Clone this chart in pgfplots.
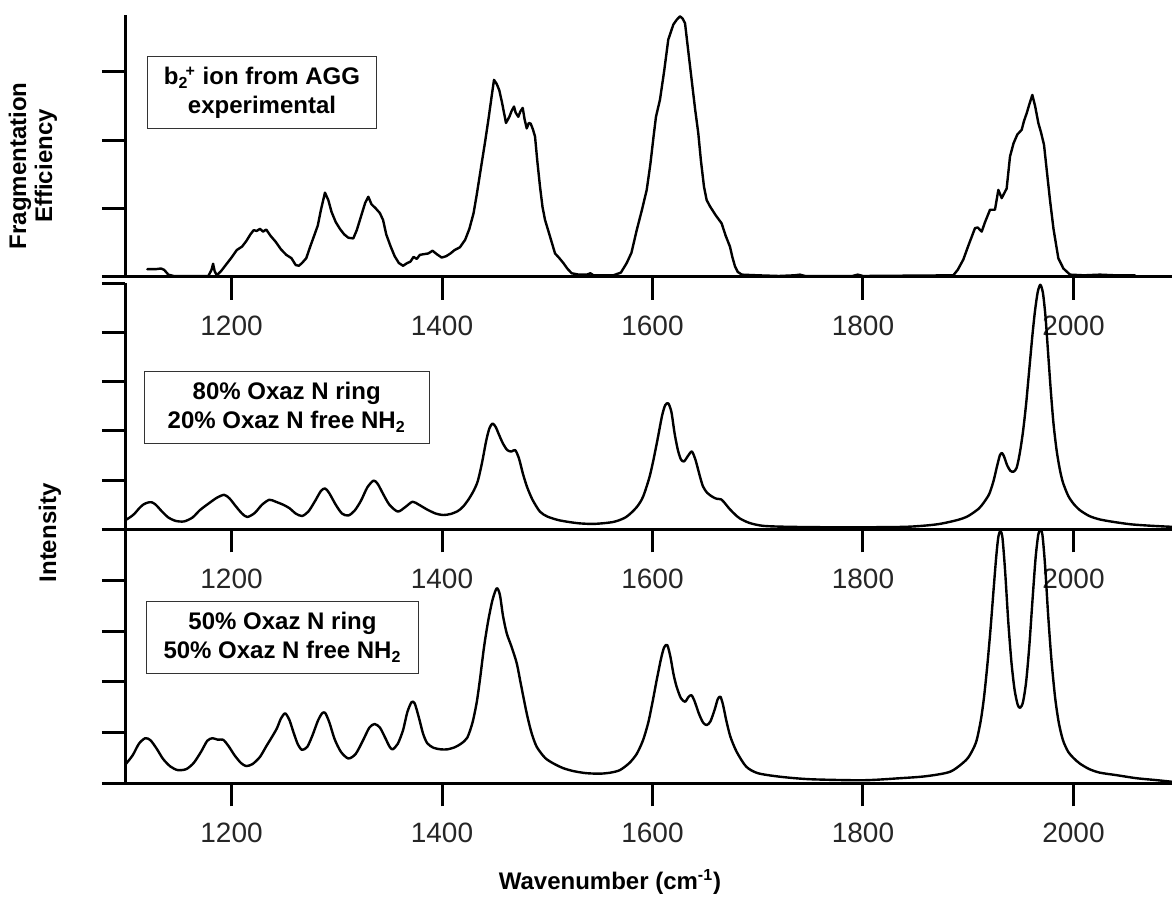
\documentclass[border=0pt]{standalone}
\usepackage{fontspec}
\setmainfont{Liberation Sans}
\usepackage{pgfplots}
\pgfplotsset{compat=1.18}

\pgfplotsset{
  panel/.style={
    scale only axis, width=523.5pt,
    xmin=1098.8, xmax=2093.6, ymin=0,
    axis x line*=bottom, axis y line*=left,
    axis line style={line width=1.5pt,-},
    tick align=outside,
    major tick length=11.5pt,
    every tick/.style={black, line width=1.5pt},
    xtick={1200,1400,1600,1800,2000},
    yticklabels={},
    /pgf/number format/1000 sep={},
    /pgf/number format/assume math mode=true,
    xticklabel style={font=\fontsize{14}{16}\selectfont, text=black!85, yshift=-4.6pt},
    clip=true,
  },
  curve/.style={black, line width=1.2pt, line join=round, line cap=round},
}

\begin{document}
\begin{tikzpicture}
\useasboundingbox (0,0) rectangle (586pt,448.5pt);

% ---------- top panel: experimental ----------
\begin{axis}[panel, at={(62.5pt,310.15pt)}, anchor=south west,
  height=130.85pt, ymax=3.83, ytick={0,1,2,3}]
\addplot[curve] coordinates {
(1120,0.11)(1128,0.11)(1133,0.12)(1136,0.10)(1140,0.03)(1145,0.01)(1178,0.01)
(1181,0.10)(1182.5,0.19)(1184,0.08)(1186,0.02)(1190,0.08)(1195,0.18)(1200,0.28)
(1205,0.39)(1210,0.44)(1214,0.52)(1218,0.62)(1221,0.68)(1224,0.67)(1227,0.70)
(1230,0.66)(1233,0.69)(1237,0.60)(1242,0.51)(1247,0.40)(1252,0.32)(1257,0.27)
(1261,0.17)(1264,0.16)(1267,0.20)(1271,0.27)(1275,0.45)(1279,0.62)(1282,0.75)
(1285,0.98)(1288.8,1.23)(1292,1.12)(1295,0.95)(1299,0.80)(1303,0.70)(1307,0.62)
(1311,0.57)(1315.7,0.56)(1319,0.68)(1323,0.88)(1327,1.08)(1330,1.17)(1333,1.06)
(1337,1.00)(1341,0.93)(1344,0.83)(1347,0.62)(1351,0.45)(1355,0.30)(1359,0.20)
(1363,0.16)(1367,0.20)(1370,0.22)(1373,0.29)(1376,0.26)(1379,0.32)(1383,0.33)
(1387,0.34)(1391,0.38)(1395,0.33)(1399.7,0.28)(1404,0.30)(1408,0.34)(1412,0.39)
(1417,0.43)(1422,0.54)(1426,0.70)(1430,0.93)(1433,1.20)(1437.7,1.66)(1441,1.98)
(1444,2.29)(1447,2.62)(1449.4,2.88)(1452,2.82)(1454.4,2.73)(1457,2.55)(1460.8,2.25)
(1464,2.34)(1466,2.42)(1468.4,2.49)(1470,2.40)(1472.5,2.34)(1474.5,2.42)(1476.7,2.47)
(1478.5,2.30)(1480.5,2.17)(1482.5,2.25)(1484.3,2.24)(1486.5,2.15)(1488.4,2.05)
(1490.5,1.70)(1493.1,1.32)(1495.5,1.02)(1497.9,0.83)(1502,0.62)(1507.4,0.34)
(1511,0.28)(1515.3,0.20)(1519,0.12)(1523.2,0.05)(1530,0.03)(1537.5,0.03)(1541,0.05)
(1544,0.02)(1550,0.02)(1562.8,0.02)(1570,0.06)(1575.5,0.20)(1580,0.35)(1585,0.68)
(1590,0.98)(1594.5,1.27)(1598,1.65)(1601,2.05)(1603.3,2.34)(1607.1,2.59)(1611,3.00)
(1615,3.47)(1619.8,3.69)(1623,3.76)(1626.1,3.81)(1628.5,3.78)(1630.9,3.71)(1634,3.30)
(1637.2,2.88)(1640.5,2.45)(1643.5,2.10)(1646,1.70)(1648.9,1.32)(1651.5,1.12)
(1654.6,1.03)(1660,0.90)(1665.7,0.78)(1669.5,0.60)(1673.6,0.44)(1676,0.28)
(1678.4,0.15)(1681,0.07)(1684.8,0.03)(1700,0.02)(1720,0.01)(1735,0.02)(1740,0.03)
(1745,0.01)(1790,0.01)(1795,0.03)(1800,0.01)(1885.8,0.02)(1890,0.10)(1895.3,0.25)
(1900,0.45)(1906.4,0.71)(1909,0.72)(1912.8,0.66)(1916,0.80)(1920.7,0.98)(1923,0.98)
(1925.4,0.98)(1928.6,1.27)(1931.8,1.15)(1936.5,1.29)(1939.7,1.76)(1943,1.95)
(1946.6,2.08)(1950.8,2.15)(1953,2.28)(1955.5,2.39)(1958,2.52)(1960.9,2.66)
(1963.5,2.50)(1966.6,2.25)(1969,2.12)(1972,1.93)(1975,1.50)(1977.7,1.12)(1981,0.70)
(1985.6,0.27)(1990.4,0.12)(1996.7,0.03)(2010,0.02)(2025,0.03)(2040,0.02)(2058.5,0.02)
};
\end{axis}

% ---------- middle panel: 80/20 ----------
\begin{axis}[panel, at={(62.5pt,183.85pt)}, anchor=south west,
  height=123pt, ymax=5, ytick={0,1,2,3,4,5}]
\addplot[curve, smooth, tension=0.45] coordinates {
(1098.8,0.18)(1104,0.25)(1108,0.32)(1112,0.42)(1116,0.50)(1120,0.54)(1124,0.55)
(1128,0.50)(1134,0.36)(1140,0.24)(1147,0.17)(1155,0.16)(1163,0.24)(1170,0.39)
(1178,0.52)(1186,0.64)(1193,0.70)(1198,0.63)(1204,0.47)(1210,0.32)(1215,0.25)
(1222,0.33)(1229,0.50)(1236,0.60)(1242,0.56)(1249,0.50)(1255,0.43)(1261,0.32)
(1267,0.27)(1273,0.36)(1279,0.56)(1285,0.78)(1289,0.83)(1293,0.73)(1299,0.50)
(1305,0.32)(1311,0.28)(1317,0.38)(1323,0.58)(1329,0.85)(1335,0.99)(1339,0.92)
(1344,0.72)(1350,0.50)(1358,0.36)(1365,0.45)(1372,0.56)(1378,0.50)(1386,0.40)
(1394,0.32)(1401,0.29)(1408,0.31)(1415,0.37)(1420,0.46)(1425,0.60)(1430,0.78)
(1434,0.98)(1438,1.35)(1442,1.80)(1445,2.05)(1448,2.15)(1451,2.08)(1454,1.93)
(1458,1.74)(1462,1.61)(1466,1.58)(1469.5,1.61)(1473,1.45)(1477,1.12)(1481,0.85)
(1486,0.60)(1493,0.36)(1500,0.26)(1510,0.19)(1520,0.15)(1531,0.12)(1545,0.11)
(1563,0.15)(1575,0.25)(1585,0.45)(1591,0.66)(1597,1.05)(1601,1.42)(1605,1.85)
(1609,2.30)(1612,2.52)(1615,2.56)(1618,2.38)(1621,1.95)(1624,1.62)(1627,1.42)
(1630,1.38)(1634,1.50)(1637.5,1.58)(1641,1.40)(1645,1.08)(1648,0.87)(1652,0.74)
(1657,0.66)(1661,0.62)(1665,0.61)(1668,0.55)(1673,0.42)(1678,0.31)(1683,0.22)
(1692,0.13)(1705,0.07)(1730,0.05)(1780,0.04)(1840,0.05)(1870,0.10)(1890,0.19)
(1900,0.27)(1910,0.42)(1915,0.55)(1920,0.72)(1924,0.98)(1927,1.25)(1930,1.50)
(1932,1.55)(1934,1.48)(1937,1.30)(1940,1.19)(1943,1.17)(1946,1.25)(1949,1.55)
(1952,1.98)(1955,2.55)(1958,3.25)(1961,3.95)(1963.5,4.45)(1966,4.82)(1968.5,4.97)
(1971,4.80)(1973.5,4.30)(1976,3.55)(1978.5,2.80)(1981,2.15)(1984,1.60)(1987,1.22)
(1990,0.95)(1995,0.68)(2000,0.52)(2006,0.39)(2015,0.27)(2025,0.20)(2038,0.15)
(2055,0.10)(2075,0.07)(2093.6,0.05)
};
\end{axis}

% ---------- bottom panel: 50/50 ----------
\begin{axis}[panel, at={(62.5pt,56.85pt)}, anchor=south west,
  height=126.65pt, ymax=5, ytick={0,1,2,3,4,5}]
\addplot[curve, smooth, tension=0.45] coordinates {
(1098.8,0.36)(1106,0.55)(1112,0.78)(1118,0.89)(1123,0.85)(1129,0.68)(1135,0.48)
(1142,0.33)(1149,0.26)(1157,0.28)(1164,0.40)(1171,0.62)(1177,0.84)(1182,0.89)
(1187,0.86)(1192,0.86)(1197,0.74)(1203,0.55)(1209,0.40)(1214,0.34)(1220,0.38)
(1227,0.52)(1233,0.73)(1238,0.90)(1243,1.08)(1247,1.28)(1251,1.38)(1255,1.25)
(1259,1.00)(1263,0.77)(1267,0.66)(1272,0.72)(1277,0.95)(1282,1.23)(1286,1.38)
(1289,1.39)(1293,1.20)(1298,0.87)(1304,0.62)(1311,0.49)(1318,0.58)(1325,0.85)
(1331,1.10)(1336,1.17)(1341,1.10)(1346,0.90)(1350,0.73)(1353,0.67)(1358,0.78)
(1363,1.05)(1367,1.40)(1371,1.60)(1374,1.58)(1378,1.30)(1382,0.98)(1386,0.79)
(1392,0.70)(1399,0.67)(1405,0.67)(1412,0.71)(1418,0.78)(1424,0.90)(1429,1.20)
(1433,1.60)(1436,2.04)(1440,2.70)(1444,3.22)(1448,3.62)(1452,3.85)(1455,3.72)
(1458,3.30)(1461.5,2.96)(1466,2.70)(1471,2.37)(1475,1.95)(1480.5,1.38)(1485,1.00)
(1490,0.72)(1498,0.50)(1506,0.39)(1515,0.30)(1525,0.24)(1537,0.20)(1550,0.19)
(1560,0.21)(1569,0.26)(1578,0.40)(1585,0.58)(1591,0.85)(1596,1.20)(1600,1.60)
(1604,2.04)(1608,2.45)(1611,2.68)(1614,2.73)(1617,2.50)(1620,2.15)(1623,1.90)
(1627,1.68)(1631,1.61)(1634,1.70)(1637,1.74)(1640,1.62)(1644,1.38)(1648,1.20)
(1651.5,1.15)(1655,1.22)(1659,1.45)(1662,1.66)(1664.5,1.71)(1667,1.55)(1670,1.25)
(1674,0.92)(1680,0.62)(1689,0.33)(1700,0.20)(1721,0.13)(1750,0.08)(1800,0.06)
(1835,0.10)(1860,0.14)(1883,0.23)(1898,0.46)(1904,0.65)(1908,0.85)(1912,1.25)
(1915,1.70)(1918,2.30)(1921,3.00)(1924,3.80)(1926.5,4.45)(1928.5,4.85)(1930.5,4.98)
(1932.5,4.85)(1935,4.20)(1938,3.20)(1941,2.40)(1944,1.85)(1947,1.55)(1949.3,1.49)
(1952,1.60)(1955,2.00)(1958,2.70)(1961,3.60)(1964,4.45)(1966.5,4.90)(1968.5,5.0)
(1970.5,4.90)(1973,4.30)(1976,3.30)(1979,2.45)(1982.5,1.70)(1986,1.20)(1990,0.85)
(1995,0.62)(2000,0.50)(2006,0.39)(2015,0.28)(2025,0.21)(2041,0.16)(2060,0.10)
(2080,0.06)(2093.6,0.03)
};
\end{axis}

% ---------- annotation boxes ----------
\tikzset{lbl/.style={draw=black!80, line width=0.5pt, fill=white, align=center,
  font=\bfseries\fontsize{12}{14.5}\selectfont, inner sep=0pt}}
\node[lbl, minimum width=114.7pt, minimum height=36pt] at (131pt,402.1pt)
  {b\textsubscript{2}\kern-0.12em\textsuperscript{+} ion from AGG\\experimental};
\node[lbl, minimum width=142.3pt, minimum height=35.8pt] at (143.35pt,244.75pt)
  {80\% Oxaz N ring\\20\% Oxaz N free NH\textsubscript{2}};
\node[lbl, minimum width=135.8pt, minimum height=36.1pt] at (141.25pt,129.9pt)
  {50\% Oxaz N ring\\50\% Oxaz N free NH\textsubscript{2}};

% ---------- axis titles ----------
\node[rotate=90, align=center, font=\bfseries\fontsize{12}{13}\selectfont]
  at (16.5pt,365.5pt) {Fragmentation\\Efficiency};
\node[rotate=90, font=\bfseries\fontsize{12}{13}\selectfont]
  at (25pt,182pt) {Intensity};
\node[font=\bfseries\fontsize{12}{13}\selectfont] at (305pt,7.5pt)
  {Wavenumber (cm\textsuperscript{-1})};
\end{tikzpicture}
\end{document}
